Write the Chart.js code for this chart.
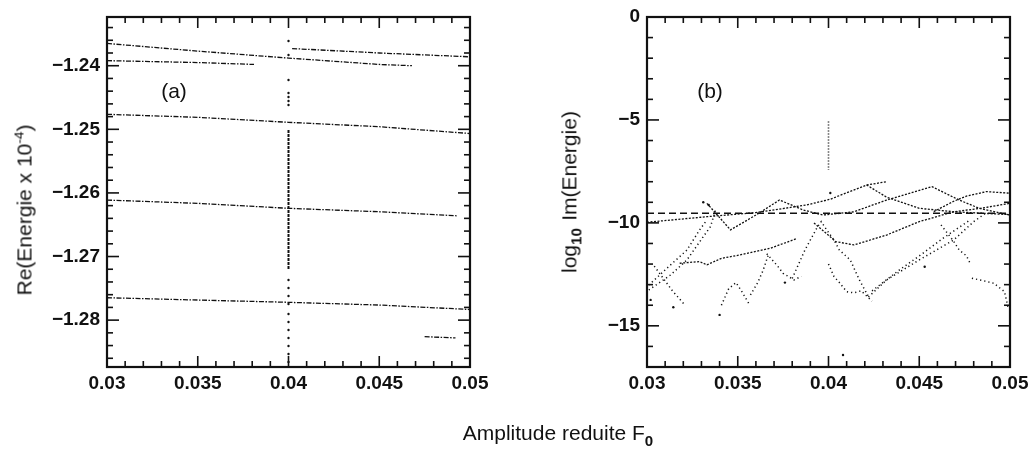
<!DOCTYPE html>
<html>
<head>
<meta charset="utf-8">
<script src="https://cdn.jsdelivr.net/npm/chart.js@4.4.0/dist/chart.umd.min.js"></script>
<style>
  body { margin: 0; background: #fff; width: 1033px; height: 456px; position: relative; overflow: hidden;
         font-family: "Liberation Sans", Arial, sans-serif; color: #111; }
  .box { position: absolute; top: 0; height: 456px; }
  .lbl { position: absolute; font-size: 21px; white-space: nowrap; transform: translate(-50%, -50%); }
  .rot { transform: translate(-50%, -50%) rotate(-90deg); }
  sup { font-size: 0.65em; }
  sub { font-size: 0.72em; font-weight: bold; }
  .gap { margin-left: 0.35em; }
</style>
</head>
<body>
<div class="box" style="left:0;width:540px"><canvas id="ca" width="540" height="456"></canvas></div>
<div class="box" style="left:540px;width:493px"><canvas id="cb" width="493" height="456"></canvas></div>
<div class="lbl rot" style="left:24px;top:210px">Re(Energie x 10<sup>-4</sup>)</div>
<div class="lbl rot" style="left:571px;top:192px">log<sub>10</sub><span class="gap">Im(Energie)</span></div>
<div class="lbl" style="left:558px;top:435px">Amplitude reduite F<sub>0</sub></div>

<script>
// ---- ticks ----
const xTicks = [0.03, 0.035, 0.04, 0.045, 0.05];
const yTicksA = [-1.28, -1.27, -1.26, -1.25, -1.24];
const yTicksB = [-15, -10, -5, 0];

// ---- panel (a) : Re(E) branches, [F0, value] ----
const reA = [[0.0300,-1.2365],[0.0350,-1.2377],[0.0400,-1.2388],[0.0450,-1.2398],[0.0468,-1.2400]];
const reB = [[0.0300,-1.2392],[0.0350,-1.2395],[0.0381,-1.2398]];
const reC = [[0.0402,-1.2373],[0.0450,-1.2380],[0.0500,-1.2386]];
const reD = [[0.0300,-1.24764],[0.0350,-1.24811],[0.0400,-1.24890],[0.0450,-1.24959],[0.0500,-1.25066]];
const reE = [[0.0300,-1.26112],[0.0350,-1.26164],[0.0400,-1.26242],[0.0450,-1.26296],[0.0493,-1.26360]];
const reF = [[0.0300,-1.27648],[0.0350,-1.27684],[0.0400,-1.27720],[0.0450,-1.27763],[0.0500,-1.27833]];
const reG = [[0.0475,-1.2826],[0.0492,-1.2828]];
const reSpike = [[0.0400,-1.2501],[0.0400,-1.2721]];
const reSpikeDots = [[0.04,-1.23612],[0.04,-1.23832],[0.04,-1.24225],[0.04,-1.24429],[0.04,-1.24492],
  [0.04,-1.24555],[0.04,-1.24618],[0.04,-1.27369],[0.04,-1.27495],[0.04,-1.27621],[0.04,-1.27747],
  [0.04,-1.27904],[0.04,-1.28030],[0.04,-1.28156],[0.04,-1.28282],[0.04,-1.28407],[0.04,-1.28533],[0.04,-1.28659]];

// ---- panel (b) : log10 Im(E) ----
const imDash = [[0.030,-9.53],[0.050,-9.53]];
const imRise = [[0.0300,-9.97],[0.0333,-9.70],[0.0360,-9.50],[0.0388,-9.13],[0.0401,-8.85],[0.0421,-8.16],[0.0432,-8.00]];
const imChain = [[0.0333,-9.05],[0.0346,-10.34],[0.0360,-9.62],[0.0373,-8.89],[0.0386,-9.37],[0.0397,-9.62],
  [0.0414,-9.46],[0.0432,-8.89],[0.0457,-8.24],[0.0472,-8.89],[0.0483,-9.29],[0.0500,-9.62]];
const imFall = [[0.0421,-8.16],[0.0432,-8.75],[0.0450,-9.29],[0.0469,-9.46],[0.0500,-9.60]];
const imTopRight = [[0.0458,-9.45],[0.0469,-8.95],[0.0476,-8.70],[0.0487,-8.48],[0.0500,-8.56]];
const imValley = [[0.0392,-10.0],[0.0404,-10.91],[0.0414,-11.07],[0.0432,-10.59],[0.0450,-9.94],
  [0.0469,-9.46],[0.0484,-9.29],[0.0500,-9.05]];
const imMid = [[0.0318,-11.96],[0.0329,-11.88],[0.0333,-12.04],[0.0341,-11.72],[0.0351,-11.56],[0.0368,-11.23],[0.0382,-10.78]];
const dotRise1 = [[0.0301,-13.26],[0.0313,-12.53],[0.0322,-11.80],[0.0331,-10.67],[0.0335,-10.18],[0.0338,-9.3]];
const dotRise2 = [[0.0301,-13.02],[0.0313,-12.04],[0.0322,-11.32],[0.0329,-10.34],[0.0333,-9.86]];
const dotFallL = [[0.0304,-12.1],[0.0309,-12.7],[0.0314,-13.3],[0.0318,-13.7],[0.0321,-14.0]];
const dotLamA = [[0.0341,-14.0],[0.0345,-13.2],[0.0349,-12.9],[0.0352,-13.3],[0.0356,-13.9]];
const dotLamB = [[0.0357,-13.5],[0.0361,-12.9],[0.0364,-12.3],[0.0367,-11.5]];
const dotFallM = [[0.0366,-11.5],[0.0372,-12.1],[0.0375,-12.45],[0.0381,-12.77],[0.0385,-12.6]];
const dotLamC = [[0.0380,-12.7],[0.0387,-11.32],[0.0394,-10.18],[0.0396,-9.94],[0.0399,-10.34],[0.0403,-10.83],
  [0.0406,-11.32],[0.0412,-11.80],[0.0417,-12.77],[0.0422,-13.58]];
const dotFallR = [[0.0400,-12.0],[0.0403,-12.6],[0.0406,-12.9],[0.0410,-13.34],[0.0414,-13.4],[0.0418,-13.3],[0.0424,-13.8]];
const dotRiseR1 = [[0.0422,-13.6],[0.0432,-12.77],[0.0450,-11.80],[0.0469,-10.83],[0.0480,-9.94],[0.0487,-9.5]];
const dotRiseR2 = [[0.0424,-13.3],[0.0439,-12.29],[0.0452,-11.48],[0.0463,-10.75],[0.0478,-9.86]];
const dotFallRR = [[0.0462,-10.1],[0.0469,-10.9],[0.0472,-11.32],[0.0476,-11.6],[0.0478,-11.96]];
const dotTail = [[0.0479,-12.69],[0.0485,-12.8],[0.0491,-12.93],[0.0497,-13.34],[0.0499,-14.15]];
const imSpike = [[0.0400,-5.08],[0.0400,-7.43]];
const imDots = [[0.0331,-9.0],[0.0334,-9.13],[0.0340,-14.47],[0.03145,-14.1],[0.0302,-13.74],
  [0.0401,-8.55],[0.0408,-16.42],[0.0453,-12.13],[0.0376,-12.9]];

const ink = '#111';
const pts = arr => arr.map(([x, y]) => ({x, y}));
const curve = (arr, dash, w) => ({data: pts(arr), showLine: true, borderColor: ink, borderWidth: w,
  borderDash: dash, pointRadius: 0, fill: false, tension: 0});
const dots = (arr, r) => ({data: pts(arr), showLine: false, pointRadius: r, pointBackgroundColor: ink, pointBorderWidth: 0});

// frame with inward ticks on all four sides + panel letter
const frame = {
  id: 'frame',
  afterDatasetsDraw(chart, args, o) {
    const {ctx, chartArea: a, scales: {x, y}} = chart;
    const seg = (x1, y1, x2, y2) => { ctx.beginPath(); ctx.moveTo(x1, y1); ctx.lineTo(x2, y2); ctx.stroke(); };
    const isMajor = (v, m) => Math.abs(v / m - Math.round(v / m)) < 1e-6;
    ctx.save();
    ctx.strokeStyle = ink;
    ctx.lineWidth = 1.6;
    for (let i = Math.ceil(x.min / o.xMinor - 1e-6); i * o.xMinor <= x.max + 1e-9; i++) {
      const v = i * o.xMinor, p = x.getPixelForValue(v), len = isMajor(v, o.xMajor) ? 11 : 6;
      seg(p, a.bottom, p, a.bottom - len);
      seg(p, a.top, p, a.top + len);
    }
    for (let i = Math.ceil(y.min / o.yMinor - 1e-6); i * o.yMinor <= y.max + 1e-9; i++) {
      const v = i * o.yMinor, p = y.getPixelForValue(v), len = isMajor(v, o.yMajor) ? 12 : 6;
      seg(a.left, p, a.left + len, p);
      seg(a.right, p, a.right - len, p);
    }
    ctx.lineWidth = 2.2;
    ctx.strokeRect(a.left, a.top, a.width, a.height);
    ctx.font = '21px "Liberation Sans", Arial, sans-serif';
    ctx.fillStyle = ink;
    ctx.textAlign = 'center';
    ctx.textBaseline = 'middle';
    ctx.fillText(o.label, a.left + o.lx, a.top + o.ly);
    ctx.restore();
  }
};

const tickFont = {family: '"Liberation Sans", Arial, sans-serif', size: 19, weight: 'bold'};

function makeOptions(yMin, yMax, yTicks, yFmt, frameOpts, rightPad) {
  return {
    responsive: false,
    animation: false,
    layout: {padding: {left: 0, top: 17, right: rightPad, bottom: 49}},
    plugins: {legend: {display: false}, tooltip: {enabled: false}, frame: frameOpts},
    scales: {
      x: {
        type: 'linear', min: 0.03, max: 0.05,
        afterBuildTicks: s => { s.ticks = xTicks.map(value => ({value})); },
        afterFit: s => { s.height = 40; s.paddingLeft = 0; s.paddingRight = 0; },
        ticks: {font: tickFont, color: ink, padding: 5, maxRotation: 0,
                callback: v => String(Number(v.toFixed(4)))},
        grid: {display: false, drawTicks: false},
        border: {display: false}
      },
      y: {
        type: 'linear', min: yMin, max: yMax,
        afterBuildTicks: s => { s.ticks = yTicks.map(value => ({value})); },
        afterFit: s => { s.width = 107; s.paddingTop = 0; s.paddingBottom = 0; },
        ticks: {font: tickFont, color: ink, padding: 7, callback: yFmt},
        grid: {display: false, drawTicks: false},
        border: {display: false}
      }
    }
  };
}

const lineA = [5, 1.5, 1.5, 1.5];
new Chart(document.getElementById('ca'), {
  type: 'scatter',
  data: {datasets: [
    curve(reA, lineA, 1.3), curve(reB, lineA, 1.3), curve(reC, lineA, 1.3), curve(reD, lineA, 1.3),
    curve(reE, lineA, 1.3), curve(reF, lineA, 1.3), curve(reG, lineA, 1.3),
    curve(reSpike, [3, 1], 2), dots(reSpikeDots, 1.2)
  ]},
  options: makeOptions(-1.28737, -1.23234, yTicksA, v => '\u2212' + Math.abs(v).toFixed(2),
    {xMinor: 0.001, xMajor: 0.005, yMinor: 0.002, yMajor: 0.01, label: '(a)', lx: 67, ly: 75}, 70),
  plugins: [frame]
});

const solidB = [2, 1.5];
const dotB = [1.2, 3];
new Chart(document.getElementById('cb'), {
  type: 'scatter',
  data: {datasets: [
    curve(imDash, [7, 4], 1.6),
    curve(imRise, solidB, 1.3), curve(imChain, solidB, 1.3), curve(imFall, solidB, 1.3),
    curve(imTopRight, solidB, 1.3), curve(imValley, solidB, 1.3), curve(imMid, solidB, 1.3),
    curve(dotRise1, dotB, 1.5), curve(dotRise2, dotB, 1.5), curve(dotFallL, dotB, 1.5),
    curve(dotLamA, dotB, 1.5), curve(dotLamB, dotB, 1.5), curve(dotFallM, dotB, 1.5),
    curve(dotLamC, dotB, 1.5), curve(dotFallR, dotB, 1.5), curve(dotRiseR1, dotB, 1.5),
    curve(dotRiseR2, dotB, 1.5), curve(dotFallRR, dotB, 1.5), curve(dotTail, dotB, 1.5),
    curve(imSpike, [1, 2], 1.6), dots(imDots, 1.2)
  ]},
  options: makeOptions(-17, 0, yTicksB, v => v === 0 ? '0' : '\u2212' + Math.abs(v),
    {xMinor: 0.001, xMajor: 0.005, yMinor: 1, yMajor: 5, label: '(b)', lx: 63, ly: 75}, 23),
  plugins: [frame]
});
</script>
</body>
</html>
